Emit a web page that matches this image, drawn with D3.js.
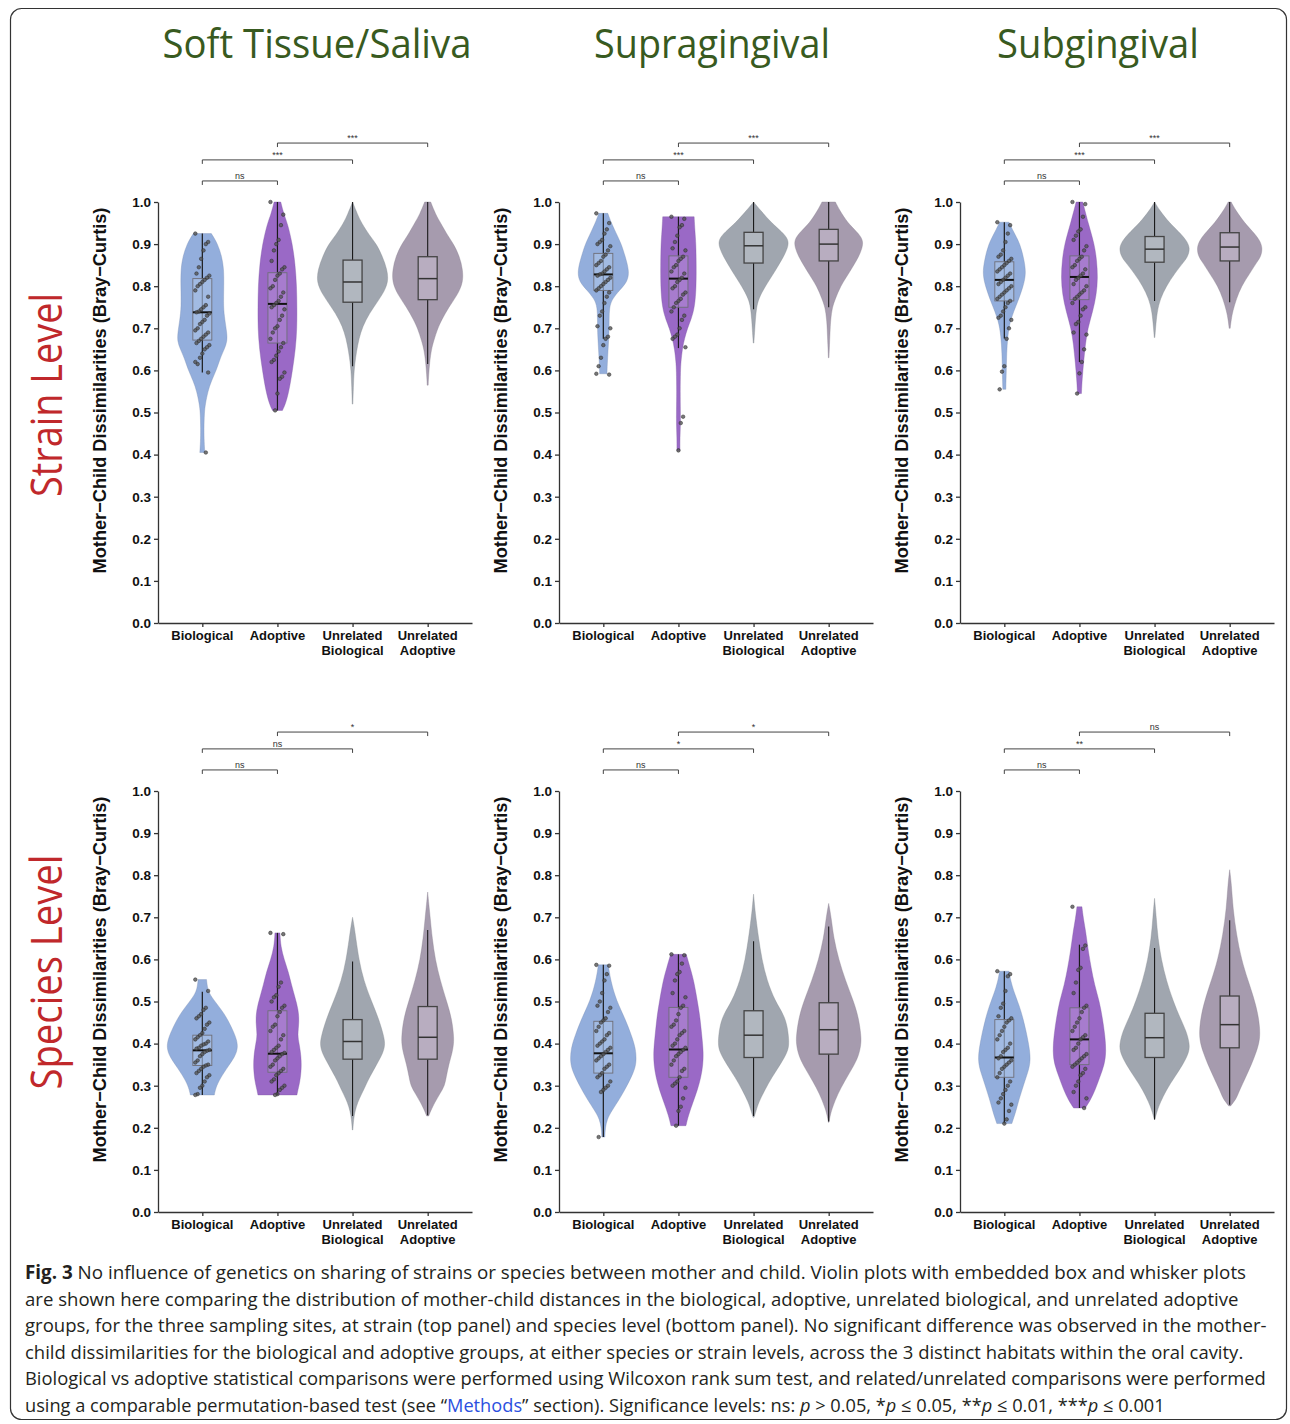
<!DOCTYPE html>
<html><head><meta charset="utf-8">
<script src="https://cdn.jsdelivr.net/npm/d3@7"></script>
<style>body{margin:0;background:#fff} svg{display:block}</style>
</head><body><svg id="c" width="1290" height="1424"></svg>
<script>
// ---------------- DATA ----------------
const sites = ["Soft Tissue/Saliva", "Supragingival", "Subgingival"];
const levels = ["Strain Level", "Species Level"];
const groups = ["Biological", "Adoptive", "Unrelated Biological", "Unrelated Adoptive"];
const yTicks = [0, 0.1, 0.2, 0.3, 0.4, 0.5, 0.6, 0.7, 0.8, 0.9, 1.0];

// violin density profiles [value, density] per site, per group
const densityStrain = [
  [ // Soft Tissue/Saliva
    [[0.925,9],[0.90,15.5],[0.87,19.5],[0.84,21.5],[0.80,21.5],[0.75,21],[0.72,22.5],[0.69,24.5],[0.67,25],[0.65,22],[0.63,18],[0.60,14],[0.575,9],[0.55,5.5],[0.52,3],[0.50,2],[0.46,1.6],[0.43,1.8],[0.405,2.5]],
    [[1.0,3.3],[0.97,6.5],[0.95,10],[0.90,15],[0.85,17.8],[0.80,19.2],[0.75,19.5],[0.70,19.5],[0.65,18],[0.60,15],[0.55,11.5],[0.52,8],[0.505,5]],
    [[1.0,0],[0.97,5],[0.95,9],[0.92,17],[0.90,24],[0.87,30],[0.84,34.5],[0.81,36],[0.78,30],[0.75,21],[0.72,13],[0.69,8],[0.66,5],[0.63,3],[0.60,1.5],[0.56,0.8],[0.52,0.3]],
    [[1.0,3],[0.97,8],[0.95,13],[0.92,20],[0.90,26],[0.87,32],[0.84,35],[0.81,35.5],[0.78,30],[0.75,21],[0.72,14],[0.70,10],[0.67,6],[0.65,3.7],[0.62,2],[0.59,1],[0.565,0.5]]
  ],
  [ // Supragingival
    [[0.973,4.5],[0.95,8],[0.92,14],[0.90,18],[0.87,22],[0.835,26],[0.81,24],[0.79,16],[0.77,9],[0.75,6],[0.72,5.8],[0.69,5.8],[0.66,5],[0.63,4.3],[0.60,3.7],[0.592,3.7]],
    [[0.965,15.7],[0.93,16.5],[0.90,17.5],[0.85,17.8],[0.80,17.8],[0.75,16.3],[0.72,12.5],[0.70,9],[0.675,6],[0.65,3.8],[0.62,2.5],[0.60,2],[0.55,1.7],[0.50,2],[0.47,2],[0.44,1.5],[0.41,1.5]],
    [[1.0,0],[0.98,7],[0.95,18],[0.93,28],[0.91,35.5],[0.89,34],[0.87,30],[0.85,25],[0.83,20],[0.80,11.7],[0.77,5],[0.75,3],[0.72,1.8],[0.70,1.3],[0.665,0.3]],
    [[1.0,6.7],[0.98,11],[0.95,19],[0.93,28],[0.91,34.7],[0.89,33.5],[0.87,30],[0.85,25],[0.83,20],[0.80,11.7],[0.77,6.7],[0.75,3.5],[0.72,2],[0.70,1.5],[0.66,0.8],[0.63,0.3]]
  ],
  [ // Subgingival
    [[0.952,4.7],[0.93,9],[0.90,16],[0.86,20],[0.83,21.7],[0.80,19],[0.76,13],[0.72,5.8],[0.68,3.3],[0.64,2.3],[0.60,2],[0.555,1.5]],
    [[1.0,3.3],[0.95,8.7],[0.90,15],[0.86,17.3],[0.82,18.3],[0.78,17],[0.74,13.3],[0.70,8.3],[0.66,5.8],[0.62,4.2],[0.58,2.7],[0.545,2]],
    [[1.0,0],[0.98,5],[0.95,15],[0.93,24],[0.91,31.7],[0.89,35.7],[0.87,33],[0.86,30],[0.83,20],[0.80,11.7],[0.77,5.7],[0.74,2.5],[0.70,1],[0.678,0.3]],
    [[1.0,1.5],[0.98,6],[0.95,15],[0.93,23],[0.91,30],[0.89,33],[0.87,31],[0.86,28],[0.83,20],[0.80,11.7],[0.77,6.7],[0.74,3],[0.72,1.5],[0.70,0.5]]
  ]
];
const densitySpecies = [
  [ // Soft Tissue/Saliva
    [[0.552,4.2],[0.535,5],[0.52,6.7],[0.50,12.5],[0.47,22.5],[0.44,29],[0.41,34.5],[0.39,35.5],[0.37,33],[0.34,24],[0.31,16],[0.29,13],[0.278,12]],
    [[0.663,2.5],[0.63,3.3],[0.60,6.7],[0.57,11],[0.54,14],[0.51,17.5],[0.48,21],[0.45,21.7],[0.42,20],[0.40,21.7],[0.37,23.7],[0.34,24],[0.31,22.5],[0.29,20.5],[0.278,19.5]],
    [[0.70,0],[0.68,1.5],[0.65,3.3],[0.60,6.3],[0.55,11],[0.50,19],[0.46,26],[0.42,31],[0.40,32.5],[0.38,31],[0.35,24],[0.32,17],[0.30,13],[0.28,9],[0.26,5],[0.24,2.5],[0.22,1],[0.195,0.3]],
    [[0.76,0],[0.73,1.2],[0.70,2.5],[0.65,4.5],[0.60,7.5],[0.55,12.5],[0.50,19],[0.46,24],[0.42,26],[0.40,26],[0.38,24.7],[0.35,21],[0.32,18.5],[0.30,17],[0.28,12],[0.26,7],[0.24,3],[0.228,1]]
  ],
  [ // Supragingival
    [[0.587,5],[0.55,7.2],[0.50,13.3],[0.46,21.7],[0.42,28],[0.39,32.3],[0.355,33.3],[0.33,30],[0.30,23.7],[0.27,16.7],[0.24,8.3],[0.22,3.7],[0.20,2],[0.178,1.5]],
    [[0.612,7.8],[0.58,11.7],[0.55,15.3],[0.50,19],[0.46,21.7],[0.42,23.3],[0.38,25],[0.35,24.5],[0.32,22.5],[0.29,19],[0.26,14.5],[0.23,10],[0.205,7.5]],
    [[0.755,0],[0.72,1.3],[0.70,2.3],[0.65,5],[0.60,8.3],[0.55,13.3],[0.50,21.7],[0.47,30],[0.44,34],[0.40,35.7],[0.38,34],[0.35,26.7],[0.32,18.3],[0.29,11.3],[0.26,5],[0.24,2.5],[0.225,0.5]],
    [[0.733,0],[0.70,2.5],[0.65,5],[0.60,10],[0.55,16.7],[0.50,25],[0.46,30],[0.42,32.3],[0.40,32.5],[0.37,30],[0.34,23.3],[0.31,15.7],[0.28,9],[0.25,4],[0.23,1.5],[0.213,0.3]]
  ],
  [ // Subgingival
    [[0.572,4.8],[0.55,6.2],[0.52,10],[0.49,15],[0.46,18.7],[0.43,21.7],[0.40,24.3],[0.36,26.7],[0.33,23.3],[0.30,19],[0.27,15],[0.24,11.7],[0.21,7.5]],
    [[0.725,2.5],[0.70,3.7],[0.66,6.7],[0.62,8.8],[0.58,11.7],[0.54,15],[0.50,20],[0.46,23],[0.42,25.5],[0.38,26.7],[0.35,25],[0.32,20.3],[0.29,15.8],[0.265,10.8],[0.247,5.8]],
    [[0.745,0],[0.70,1.7],[0.65,3.3],[0.60,6.7],[0.55,11.7],[0.50,18.7],[0.46,25.7],[0.43,31.7],[0.40,35],[0.38,34.7],[0.35,28.3],[0.32,20],[0.29,11.7],[0.26,5.7],[0.24,2.5],[0.22,0.3]],
    [[0.813,0],[0.78,1.7],[0.72,3.3],[0.66,6.7],[0.60,11.7],[0.55,18.3],[0.51,24],[0.47,28.3],[0.44,30],[0.41,30.3],[0.38,26.7],[0.35,21.7],[0.32,16],[0.29,10],[0.27,6.7],[0.26,3.5],[0.252,1]]
  ]
];

// box stats [whiskerLow, q1, median, q3, whiskerHigh]
const boxStrain = [
  [[0.595,0.672,0.738,0.818,0.925],[0.505,0.665,0.758,0.832,1.0],[0.61,0.762,0.81,0.862,1.0],[0.615,0.768,0.818,0.87,1.0]],
  [[0.675,0.79,0.828,0.878,0.973],[0.653,0.75,0.818,0.872,0.965],[0.745,0.855,0.896,0.928,1.0],[0.75,0.86,0.9,0.935,1.0]],
  [[0.676,0.765,0.815,0.858,0.952],[0.62,0.768,0.822,0.872,1.0],[0.765,0.857,0.888,0.918,1.0],[0.762,0.86,0.893,0.927,1.0]]
];
const boxSpecies = [
  [[0.278,0.348,0.384,0.42,0.523],[0.278,0.332,0.376,0.478,0.663],[0.228,0.363,0.405,0.457,0.595],[0.23,0.363,0.415,0.488,0.67]],
  [[0.178,0.33,0.377,0.453,0.587],[0.205,0.32,0.386,0.486,0.612],[0.228,0.367,0.42,0.478,0.643],[0.215,0.375,0.433,0.497,0.678]],
  [[0.21,0.32,0.367,0.457,0.572],[0.247,0.35,0.41,0.485,0.635],[0.22,0.367,0.414,0.472,0.627],[0.255,0.39,0.445,0.513,0.693]]
];

// individual pairs shown for Biological and Adoptive groups
const pointsStrain = [
  [[0.925,0.905,0.90,0.885,0.865,0.845,0.83,0.825,0.82,0.815,0.81,0.805,0.80,0.79,0.775,0.755,0.75,0.745,0.74,0.738,0.735,0.73,0.72,0.715,0.71,0.70,0.695,0.69,0.685,0.68,0.675,0.67,0.665,0.66,0.655,0.65,0.64,0.63,0.615,0.62,0.595,0.405],
   [1.0,0.97,0.945,0.91,0.90,0.885,0.86,0.845,0.84,0.83,0.825,0.815,0.80,0.795,0.785,0.775,0.765,0.76,0.755,0.75,0.745,0.73,0.72,0.705,0.70,0.69,0.675,0.665,0.655,0.645,0.635,0.625,0.62,0.595,0.585,0.58,0.545,0.505]],
  [[0.973,0.95,0.935,0.925,0.91,0.905,0.90,0.895,0.885,0.875,0.87,0.86,0.855,0.85,0.845,0.84,0.835,0.83,0.828,0.825,0.82,0.815,0.81,0.805,0.80,0.795,0.79,0.785,0.775,0.76,0.74,0.73,0.705,0.70,0.68,0.675,0.66,0.63,0.61,0.592,0.59],
   [0.965,0.96,0.945,0.94,0.92,0.905,0.89,0.885,0.87,0.865,0.86,0.85,0.845,0.835,0.83,0.82,0.815,0.81,0.80,0.795,0.785,0.78,0.77,0.765,0.76,0.75,0.74,0.73,0.72,0.70,0.685,0.68,0.675,0.655,0.49,0.475,0.41]],
  [[0.952,0.945,0.925,0.905,0.885,0.875,0.87,0.865,0.86,0.855,0.85,0.845,0.84,0.835,0.83,0.825,0.82,0.815,0.81,0.805,0.80,0.795,0.79,0.785,0.78,0.775,0.77,0.765,0.76,0.75,0.74,0.73,0.725,0.72,0.70,0.675,0.61,0.597,0.555],
   [1.0,0.995,0.965,0.935,0.93,0.92,0.91,0.895,0.885,0.87,0.865,0.86,0.85,0.845,0.84,0.83,0.825,0.82,0.815,0.805,0.80,0.79,0.785,0.78,0.775,0.77,0.76,0.75,0.745,0.73,0.715,0.71,0.69,0.685,0.65,0.62,0.593,0.545]]
];
const pointsSpecies = [
  [[0.552,0.525,0.485,0.48,0.47,0.465,0.46,0.45,0.445,0.435,0.425,0.42,0.415,0.41,0.405,0.40,0.398,0.395,0.39,0.388,0.385,0.383,0.38,0.375,0.37,0.36,0.355,0.35,0.348,0.345,0.34,0.335,0.33,0.325,0.32,0.31,0.30,0.295,0.28,0.278],
   [0.663,0.66,0.545,0.535,0.515,0.51,0.50,0.49,0.485,0.475,0.465,0.445,0.44,0.43,0.42,0.41,0.395,0.39,0.385,0.38,0.378,0.375,0.37,0.365,0.36,0.35,0.345,0.34,0.335,0.33,0.325,0.315,0.31,0.30,0.295,0.29,0.28,0.278]],
  [[0.587,0.585,0.565,0.55,0.52,0.50,0.49,0.485,0.475,0.46,0.455,0.45,0.44,0.43,0.425,0.42,0.41,0.405,0.40,0.395,0.39,0.385,0.38,0.375,0.37,0.365,0.36,0.35,0.345,0.34,0.33,0.325,0.32,0.31,0.30,0.295,0.29,0.285,0.178],
   [0.612,0.61,0.59,0.57,0.565,0.55,0.52,0.51,0.49,0.485,0.47,0.455,0.445,0.44,0.43,0.425,0.42,0.41,0.40,0.395,0.39,0.385,0.38,0.375,0.37,0.36,0.35,0.34,0.335,0.32,0.31,0.305,0.30,0.295,0.27,0.25,0.24,0.205]],
  [[0.572,0.565,0.56,0.525,0.495,0.485,0.465,0.46,0.455,0.45,0.44,0.43,0.42,0.41,0.40,0.39,0.385,0.38,0.37,0.365,0.36,0.355,0.35,0.345,0.34,0.33,0.32,0.31,0.30,0.29,0.28,0.27,0.26,0.255,0.24,0.22,0.21],
   [0.725,0.633,0.625,0.58,0.575,0.545,0.52,0.49,0.485,0.475,0.46,0.45,0.44,0.43,0.42,0.415,0.41,0.40,0.39,0.385,0.375,0.37,0.365,0.36,0.355,0.35,0.345,0.34,0.33,0.325,0.31,0.30,0.285,0.27,0.247]]
];

// significance comparisons
const comparisons = [[0, 1], [0, 2], [1, 3]];
const bracketValues = [1.05, 1.10, 1.14];
const sigStrain = [["ns", "***", "***"], ["ns", "***", "***"], ["ns", "***", "***"]];
const sigSpecies = [["ns", "ns", "*"], ["ns", "*", "*"], ["ns", "**", "ns"]];

const captionLines = [
  [["Fig. 3", "b"], [" No influence of genetics on sharing of strains or species between mother and child. Violin plots with embedded box and whisker plots", ""]],
  [["are shown here comparing the distribution of mother-child distances in the biological, adoptive, unrelated biological, and unrelated adoptive", ""]],
  [["groups, for the three sampling sites, at strain (top panel) and species level (bottom panel). No significant difference was observed in the mother-", ""]],
  [["child dissimilarities for the biological and adoptive groups, at either species or strain levels, across the 3 distinct habitats within the oral cavity.", ""]],
  [["Biological vs adoptive statistical comparisons were performed using Wilcoxon rank sum test, and related/unrelated comparisons were performed", ""]],
  [["using a comparable permutation-based test (see \u201c", ""], ["Methods", "link"], ["\u201d section). Significance levels: ns: ", ""], ["p", "i"], [" > 0.05, *", ""], ["p", "i"], [" \u2264 0.05, **", ""], ["p", "i"], [" \u2264 0.01, ***", ""], ["p", "i"], [" \u2264 0.001", ""]]
];

// ---------------- LAYOUT / STYLE ----------------
const svg = d3.select("#c");
const violinFill = ["#93aedc", "#9a69c6", "#a0a6af", "#a69bae"];
const boxFill = ["#abc1e6", "#ad87d3", "#b1b7bf", "#b8adc0"];
const panelLeft = [158, 559, 960];
const axisWidth = 314;
const rowY = [[623, 202], [1212, 791]];
const titleX = [317, 712, 1098];
const axisFont = "'Liberation Sans', Arial, Helvetica, sans-serif";

// frame
svg.append("rect").attr("x", 10.5).attr("y", 8.5).attr("width", 1276).attr("height", 1411)
  .attr("rx", 11).attr("fill", "none").attr("stroke", "#333").attr("stroke-width", 1.2);

function fitText(sel, target, tx, ty, rot) {
  const w = sel.node().getComputedTextLength();
  const s = target / w;
  sel.attr("transform", `translate(${tx},${ty})` + (rot ? ` rotate(${rot})` : "") + ` scale(${s},1)`);
}

// site titles
sites.forEach((s, i) => {
  const widths = [309, 236, 202];
  const t = svg.append("text").attr("x", 0).attr("y", 0).attr("text-anchor", "middle")
    .attr("font-family", "'Open Sans', sans-serif").attr("font-size", 40).attr("fill", "#385a20").text(s);
  fitText(t, widths[i], titleX[i], 58);
});
// level labels
levels.forEach((l, r) => {
  const cy = [395, 972][r], len = [204, 235][r];
  const t = svg.append("text").attr("x", 0).attr("y", 0).attr("text-anchor", "middle")
    .attr("font-family", "'Open Sans', sans-serif").attr("font-size", 44).attr("fill", "#c0282b").text(l);
  fitText(t, len, 62, cy, -90);
});

const wScale = d3.scaleLinear().domain([0, 36]).range([0, 36]);
const boxHalf = 9.5;

function jitter(i) { return (((i * 37) % 13) / 12 - 0.5) * 14; }

for (let r = 0; r < 2; r++) {
  const dens = r === 0 ? densityStrain : densitySpecies;
  const boxes = r === 0 ? boxStrain : boxSpecies;
  const pts = r === 0 ? pointsStrain : pointsSpecies;
  const sig = r === 0 ? sigStrain : sigSpecies;
  for (let s = 0; s < 3; s++) {
    const x = d3.scalePoint().domain(groups).range([panelLeft[s], panelLeft[s] + axisWidth]).padding(0.59);
    const y = d3.scaleLinear().domain([0, 1]).range(rowY[r]);
    const g = svg.append("g");

    groups.forEach((grp, k) => {
      const cx = x(grp);
      const area = d3.area()
        .y(d => y(d[0]))
        .x0(d => cx - wScale(d[1]))
        .x1(d => cx + wScale(d[1]))
        .curve(d3.curveBasis);
      g.append("path").attr("d", area(dens[s][k])).attr("fill", violinFill[k])
        .attr("stroke", d3.color(violinFill[k]).darker(0.6)).attr("stroke-width", 0.5).attr("stroke-opacity", 0.7);
      const [lo, q1, med, q3, hi] = boxes[s][k];
      if (k < 2) {
        g.append("line").attr("x1", cx).attr("x2", cx).attr("y1", y(lo)).attr("y2", y(hi))
          .attr("stroke", "#1a1a1a").attr("stroke-width", 1.2);
        g.append("rect").attr("x", cx - boxHalf).attr("width", boxHalf * 2)
          .attr("y", y(q3)).attr("height", y(q1) - y(q3))
          .attr("fill", boxFill[k]).attr("fill-opacity", 0.65).attr("stroke", "#6e6e78").attr("stroke-width", 0.9);
        g.append("line").attr("x1", cx - boxHalf).attr("x2", cx + boxHalf).attr("y1", y(med)).attr("y2", y(med))
          .attr("stroke", "#111").attr("stroke-width", 2);
        g.selectAll(null).data(pts[s][k]).join("circle")
          .attr("cx", (d, i) => cx + jitter(i)).attr("cy", d => y(d)).attr("r", 1.8)
          .attr("fill", "#555").attr("fill-opacity", 0.8).attr("stroke", "#2a2a2a").attr("stroke-width", 0.5);
      } else {
        g.append("line").attr("x1", cx).attr("x2", cx).attr("y1", y(lo)).attr("y2", y(q1))
          .attr("stroke", "#1a1a1a").attr("stroke-width", 1.1);
        g.append("line").attr("x1", cx).attr("x2", cx).attr("y1", y(q3)).attr("y2", y(hi))
          .attr("stroke", "#1a1a1a").attr("stroke-width", 1.1);
        g.append("rect").attr("x", cx - boxHalf).attr("width", boxHalf * 2)
          .attr("y", y(q3)).attr("height", y(q1) - y(q3))
          .attr("fill", boxFill[k]).attr("stroke", "#444").attr("stroke-width", 1.3);
        g.append("line").attr("x1", cx - boxHalf).attr("x2", cx + boxHalf).attr("y1", y(med)).attr("y2", y(med))
          .attr("stroke", "#333").attr("stroke-width", 1.5);
      }
    });

    // axes
    const ya = g.append("g").attr("transform", `translate(${panelLeft[s]},0)`)
      .call(d3.axisLeft(y).tickValues(yTicks).tickFormat(d3.format(".1f")).tickSize(4).tickSizeOuter(0).tickPadding(3));
    ya.selectAll("text").attr("font-family", axisFont).attr("font-weight", "bold").attr("font-size", 13.5).attr("fill", "#111");
    ya.selectAll("line,path").attr("stroke", "#333").attr("stroke-width", 1.3);

    const xa = g.append("g").attr("transform", `translate(0,${rowY[r][0]})`)
      .call(d3.axisBottom(x).tickSize(4).tickSizeOuter(0).tickFormat(""));
    xa.selectAll("line,path").attr("stroke", "#333").attr("stroke-width", 1.3);
    groups.forEach(grp => {
      const words = grp.split(" ");
      const t = g.append("text").attr("text-anchor", "middle").attr("font-family", axisFont)
        .attr("font-weight", "bold").attr("font-size", 13).attr("fill", "#111");
      words.forEach((w, wi) => {
        t.append("tspan").attr("x", x(grp)).attr("y", rowY[r][0] + 17 + wi * 15).text(w);
      });
    });

    // y title
    g.append("text").attr("text-anchor", "middle").attr("font-family", axisFont).attr("font-weight", "bold")
      .attr("font-size", 18.2).attr("fill", "#111")
      .attr("transform", `translate(${panelLeft[s] - 52.5},${[390.5, 979.5][r]}) rotate(-90)`)
      .text("Mother\u2212Child Dissimilarities (Bray\u2212Curtis)");

    // significance brackets
    comparisons.forEach((c, ci) => {
      const x1 = x(groups[c[0]]), x2 = x(groups[c[1]]), by = y(bracketValues[ci]);
      g.append("path").attr("d", `M${x1},${by + 4}V${by}H${x2}V${by + 4}`)
        .attr("fill", "none").attr("stroke", "#444").attr("stroke-width", 1);
      g.append("text").attr("x", (x1 + x2) / 2).attr("y", by - 2).attr("text-anchor", "middle")
        .attr("font-family", axisFont).attr("font-size", 9).attr("fill", "#333").text(sig[s][ci]);
    });
  }
}

// caption
const capEnds = [1247, 1239, 1268, 1244, 1266, 1165];
captionLines.forEach((line, li) => {
  const t = svg.append("text").attr("x", 0).attr("y", 0)
    .attr("font-family", "'Open Sans', sans-serif").attr("font-size", 19).attr("fill", "#231f20");
  line.forEach(([txt, st]) => {
    const sp = t.append("tspan").text(txt);
    if (st === "b") sp.attr("font-weight", "bold");
    if (st === "i") sp.attr("font-style", "italic");
    if (st === "link") sp.attr("fill", "#2a4fe0");
  });
  fitText(t, capEnds[li] - 25, 25, 1279 + li * 26.5);
});
</script></body></html>
